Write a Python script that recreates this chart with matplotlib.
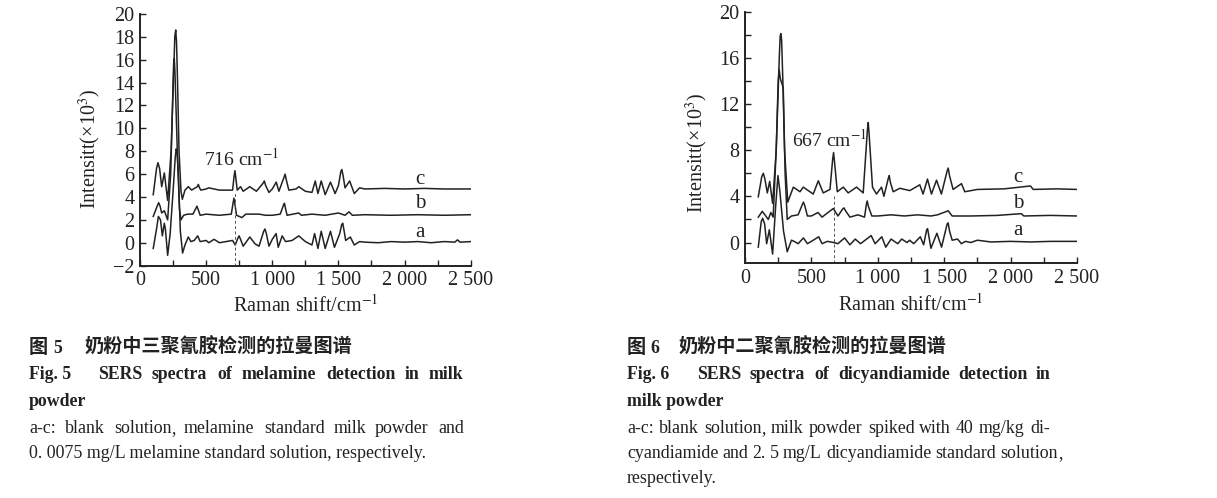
import matplotlib
matplotlib.use('Agg')
import matplotlib.pyplot as plt
from matplotlib.ticker import MultipleLocator

plt.rcParams['font.family'] = ['Liberation Serif', 'DejaVu Serif']
plt.rcParams['mathtext.fontset'] = 'stix'

# ---- data (Raman shift, intensity x10^3) ----
# Fig. 5 melamine
f5_a = [(100, -0.5), (125, 1.2), (139, 2.3), (155, 2.0), (169, 0.6), (184, 1.7), (192, 1.2), (209, -1.1),
        (228, 0.8), (250, 4.5), (266, 7.4), (273, 8.2), (280, 8.0), (290, 6.0), (305, 1.0), (322, -0.9),
        (340, -0.2), (365, 0.5), (385, 0.1), (410, 0.2), (436, 0.6), (455, 0.1), (500, 0.2), (520, 0.0),
        (560, 0.3), (600, 0.0), (650, 0.1), (700, 0.2), (720, -0.2), (740, 0.4), (749, 0.6), (760, 0.3),
        (780, -0.3), (830, 0.5), (870, -0.1), (900, -0.3), (935, 1.0), (945, 1.2), (955, 0.8),
        (975, -0.3), (1000, 0.3), (1029, 0.8), (1045, -0.4), (1075, 0.6), (1100, 0.1), (1150, 0.2),
        (1200, 0.6), (1250, 0.1), (1300, -0.2), (1320, 0.8), (1345, -0.5), (1370, 1.0), (1400, -0.5),
        (1440, 1.0), (1470, -0.4), (1510, 0.8), (1525, 1.6), (1533, 1.7), (1545, 0.9), (1555, 0.2),
        (1590, 0.5), (1620, -0.2), (1660, 0.1), (1700, 0.05), (1800, 0.0), (1900, 0.1), (2000, 0.05),
        (2100, 0.1), (2200, 0.0), (2300, 0.1), (2380, 0.05), (2400, 0.25), (2420, 0.05), (2500, 0.1)]
f5_b = [(100, 2.3), (130, 3.2), (141, 3.5), (152, 3.2), (164, 2.6), (184, 2.8), (209, 2.0), (232, 6.0),
        (248, 13.0), (254, 15.6), (259, 16.1), (264, 15.0), (282, 8.0), (298, 3.0), (310, 2.0),
        (330, 2.4), (360, 2.5), (400, 2.5), (422, 3.0), (430, 3.2), (440, 2.9), (455, 2.4), (500, 2.5),
        (600, 2.4), (690, 2.5), (704, 3.5), (710, 3.9), (717, 3.4), (730, 2.4), (770, 2.2), (800, 2.5),
        (900, 2.5), (950, 2.4), (1000, 2.4), (1060, 2.5), (1085, 3.3), (1092, 3.45), (1100, 3.0),
        (1112, 2.4), (1200, 2.6), (1220, 2.4), (1300, 2.5), (1400, 2.4), (1500, 2.6), (1550, 2.4),
        (1580, 2.7), (1605, 2.4), (1700, 2.45), (1900, 2.4), (2100, 2.45), (2300, 2.4), (2500, 2.45)]
f5_c = [(100, 4.2), (125, 6.5), (136, 7.0), (148, 6.5), (164, 4.9), (184, 6.1), (209, 3.7), (235, 8.0),
        (255, 15.0), (263, 18.0), (270, 18.6), (276, 17.6), (284, 14.0), (295, 8.0), (310, 4.5),
        (320, 3.8), (340, 4.6), (365, 4.9), (390, 4.6), (433, 4.9), (441, 5.1), (450, 4.8), (460, 4.6),
        (500, 4.7), (520, 4.8), (600, 4.6), (700, 4.6), (711, 5.8), (718, 6.3), (725, 5.6), (735, 4.6),
        (760, 4.9), (780, 4.5), (830, 4.9), (880, 4.5), (930, 5.2), (940, 5.4), (950, 5.0), (975, 4.4),
        (1000, 4.7), (1030, 5.3), (1050, 4.5), (1088, 5.7), (1097, 6.0), (1106, 5.5), (1125, 4.6),
        (1180, 4.7), (1200, 4.9), (1250, 4.5), (1300, 4.4), (1325, 5.4), (1345, 4.3), (1370, 5.4),
        (1400, 4.2), (1440, 5.3), (1475, 4.3), (1500, 5.0), (1518, 6.2), (1525, 6.4), (1535, 5.9),
        (1550, 4.8), (1585, 5.4), (1620, 4.3), (1660, 4.8), (1700, 4.7), (1850, 4.75), (2000, 4.7),
        (2150, 4.75), (2300, 4.7), (2500, 4.7)]

# Fig. 6 dicyandiamide
f6_a = [(100, -0.4), (122, 1.8), (133, 2.1), (148, 1.6), (163, -0.1), (183, 1.1), (208, -1.0), (230, 3.0),
        (248, 5.8), (262, 4.5), (290, 1.0), (318, -0.8), (350, 0.2), (370, 0.1), (400, -0.1),
        (440, 0.4), (470, -0.1), (500, 0.1), (555, 0.5), (580, -0.1), (620, 0.1), (667, 0.0),
        (700, -0.1), (750, 0.4), (790, -0.2), (830, 0.3), (870, -0.1), (950, 0.6), (980, -0.1),
        (1030, 0.5), (1060, -0.4), (1100, 0.3), (1150, -0.1), (1180, 0.3), (1220, 0.0), (1240, 0.2),
        (1270, -0.1), (1320, 0.5), (1345, -0.2), (1368, 1.1), (1375, 1.2), (1400, -0.5), (1445, 0.8),
        (1480, -0.4), (1522, 1.6), (1530, 1.7), (1540, 1.0), (1560, 0.2), (1600, 0.3), (1630, -0.1),
        (1660, 0.1), (1700, 0.0), (1750, 0.2), (1850, 0.05), (2000, 0.1), (2150, 0.05), (2300, 0.1),
        (2500, 0.1)]
f6_b = [(100, 2.2), (130, 2.7), (150, 2.4), (175, 2.0), (195, 2.6), (212, 2.2), (235, 8.0), (250, 14.0),
        (257, 15.0), (266, 14.2), (288, 13.4), (302, 6.0), (318, 2.0), (350, 2.3), (400, 2.4),
        (432, 3.3), (440, 3.5), (450, 3.2), (470, 2.3), (500, 2.3), (550, 2.6), (580, 2.2), (665, 2.95),
        (700, 2.3), (735, 2.9), (745, 3.0), (760, 2.7), (790, 2.2), (850, 2.4), (900, 2.2), (914, 3.3),
        (920, 3.6), (930, 3.1), (955, 2.3), (1000, 2.3), (1100, 2.4), (1200, 2.3), (1300, 2.4),
        (1400, 2.3), (1450, 2.4), (1530, 2.75), (1560, 2.3), (1700, 2.3), (1900, 2.35), (2080, 2.5),
        (2100, 2.3), (2300, 2.35), (2500, 2.3)]
f6_c = [(100, 3.96), (126, 5.7), (138, 6.0), (150, 5.5), (168, 4.3), (186, 5.3), (208, 3.4), (235, 8.0),
        (258, 16.0), (265, 17.9), (270, 18.1), (276, 17.5), (285, 14.0), (298, 8.0), (322, 3.5),
        (364, 4.8), (414, 4.4), (439, 4.8), (476, 4.5), (514, 4.2), (552, 5.35), (589, 4.3), (640, 4.6),
        (660, 7.2), (667, 7.8), (674, 7.0), (695, 4.4), (740, 4.8), (777, 4.3), (840, 4.8), (890, 4.3),
        (922, 9.8), (928, 10.4), (934, 9.5), (960, 4.8), (990, 4.2), (1028, 4.8), (1046, 4.0),
        (1080, 5.6), (1086, 5.8), (1095, 5.2), (1116, 4.4), (1166, 4.7), (1241, 4.5), (1316, 5.0),
        (1341, 4.2), (1374, 5.5), (1404, 4.2), (1442, 5.4), (1479, 4.2), (1522, 6.2), (1530, 6.45),
        (1540, 5.8), (1567, 4.6), (1630, 5.1), (1655, 4.4), (1750, 4.6), (1950, 4.65), (2150, 4.9),
        (2170, 4.6), (2350, 4.65), (2500, 4.6)]

x_ticks = [0, 500, 1000, 1500, 2000, 2500]
x_tick_labels = ['0', '500', '1 000', '1 500', '2 000', '2 500']
f5_y_ticks = [-2, 0, 2, 4, 6, 8, 10, 12, 14, 16, 18, 20]
f6_y_ticks = [0, 4, 8, 12, 16, 20]
f5_marker = 716
f6_marker = 667

W, H = 1217, 498
fig = plt.figure(figsize=(W / 100, H / 100), dpi=100)
ink = '#222222'


def make_axes(rect, ylim, yticks, curves, marker, mark_top, labels_pos, note_pos, note):
    ax = fig.add_axes(rect)
    for c in curves:
        xs, ys = zip(*c)
        ax.plot(xs, ys, color=ink, lw=1.1)
    ax.plot([marker, marker], [ylim[0], mark_top], ls=(0, (3, 2.5)), color='#555555', lw=0.7)
    ax.set_xlim(0, 2500)
    ax.set_ylim(*ylim)
    ax.set_xticks(x_ticks)
    ax.set_xticklabels(x_tick_labels)
    ax.xaxis.set_minor_locator(MultipleLocator(250))
    ax.set_yticks(yticks)
    ax.set_yticklabels([str(v).replace('-', '\u2212') for v in yticks])
    ax.yaxis.set_minor_locator(MultipleLocator(2))
    ax.tick_params(which='both', direction='in', length=4, width=1, labelsize=14.5, pad=4, colors=ink)
    for s in ['top', 'right']:
        ax.spines[s].set_visible(False)
    for s in ['left', 'bottom']:
        ax.spines[s].set_linewidth(1.4)
        ax.spines[s].set_color(ink)
    ax.patch.set_alpha(0)
    for lab, (x, y) in zip('abc', labels_pos):
        ax.text(x, y, lab, fontsize=15, ha='center', va='center', color=ink)
    ax.text(note_pos[0], note_pos[1], note, fontsize=14, ha='center', va='center', color=ink)
    return ax


ax1 = make_axes([140 / W, 1 - 265.6 / H, 330.7 / W, 251.6 / H], (-2, 20), f5_y_ticks,
                [f5_a, f5_b, f5_c], f5_marker, 4.5,
                [(2118, 0.9), (2118, 3.4), (2118, 5.5)], (764, 7.4), '716 cm$^{-1}$')
ax1.text(-0.151, 0.463, 'Intensitt(×10$^{3}$)', rotation=90, fontsize=14.5, ha='center', va='center',
         transform=ax1.transAxes, color=ink)
ax1.text(0.5, -0.157, 'Raman shift/cm$^{-1}$', fontsize=14.5, ha='center', va='center',
         transform=ax1.transAxes, color=ink)

ax2 = make_axes([745 / W, 1 - 263.3 / H, 332 / W, 251.6 / H], (-1.8, 20), f6_y_ticks,
                [f6_a, f6_b, f6_c], f6_marker, 4.2,
                [(2056, 1.0), (2056, 3.4), (2056, 5.6)], (633, 8.9), '667 cm$^{-1}$')
ax2.text(-0.145, 0.44, 'Intensitt(×10$^{3}$)', rotation=90, fontsize=14.5, ha='center', va='center',
         transform=ax2.transAxes, color=ink)
ax2.text(0.5, -0.165, 'Raman shift/cm$^{-1}$', fontsize=14.5, ha='center', va='center',
         transform=ax2.transAxes, color=ink)

# ---- captions ----
renderer = fig.canvas.get_renderer()


def line(text, x, ybase, **kw):
    fig.text(x / W, 1 - ybase / H, text, va='baseline', ha='left', color=ink, **kw)


def justified(words, x0, x1, ybase, **kw):
    # a trailing comma is drawn as its own piece so that the word keeps its baseline
    pieces = []
    for w in words:
        if w.endswith(',') and len(w) > 1:
            pieces.append((w[:-1], ','))
        else:
            pieces.append((w, ''))
    ts, ws = [], []
    for w, tail in pieces:
        t = fig.text(0, 1 - ybase / H, w, va='baseline', ha='left', color=ink, **kw)
        tw = t.get_window_extent(renderer).width
        c, cw = None, 0
        if tail:
            c = fig.text(0, 1 - ybase / H, tail, va='baseline', ha='left', color=ink, **kw)
            cw = c.get_window_extent(renderer).width
        ts.append((t, tw, c))
        ws.append(tw + cw)
    gap = (x1 - x0 - sum(ws)) / (len(ws) - 1)
    x = x0
    for (t, tw, c), w in zip(ts, ws):
        t.set_x(round(x) / W)
        if c is not None:
            c.set_x(round(x + tw) / W)
        x += w + gap


cjk = dict(family=['Noto Sans CJK SC', 'DejaVu Sans'], fontsize=13.8, weight='bold')
bold = dict(fontsize=12.8, weight='bold')
reg = dict(fontsize=12.9)

line('图', 29, 353, **cjk)
line('5', 53, 353, **bold)
line('奶粉中三聚氰胺检测的拉曼图谱', 85, 353, **cjk)
line('Fig. 5', 29, 379, **bold)
justified('SERS spectra of melamine detection in milk'.split(), 98, 464, 379, **bold)
line('powder', 29, 406, **bold)
justified('a-c: blank solution, melamine standard milk powder and'.split(), 29, 464, 433, **reg)
line('0. 0075 mg/L melamine standard solution, respectively.', 29, 458, **reg)

line('图', 627, 353, **cjk)
line('6', 650, 353, **bold)
line('奶粉中二聚氰胺检测的拉曼图谱', 679, 353, **cjk)
line('Fig. 6', 627, 379, **bold)
justified('SERS spectra of dicyandiamide detection in'.split(), 697, 1051, 379, **bold)
line('milk powder', 627, 406, **bold)
justified('a-c: blank solution, milk powder spiked with 40 mg/kg di-'.split(), 627, 1050, 433, **reg)
justified('cyandiamide and 2. 5 mg/L dicyandiamide standard solution,'.split(), 627, 1062, 458, **reg)
line('respectively.', 627, 483, **reg)

fig.savefig('out.png', dpi=100)
